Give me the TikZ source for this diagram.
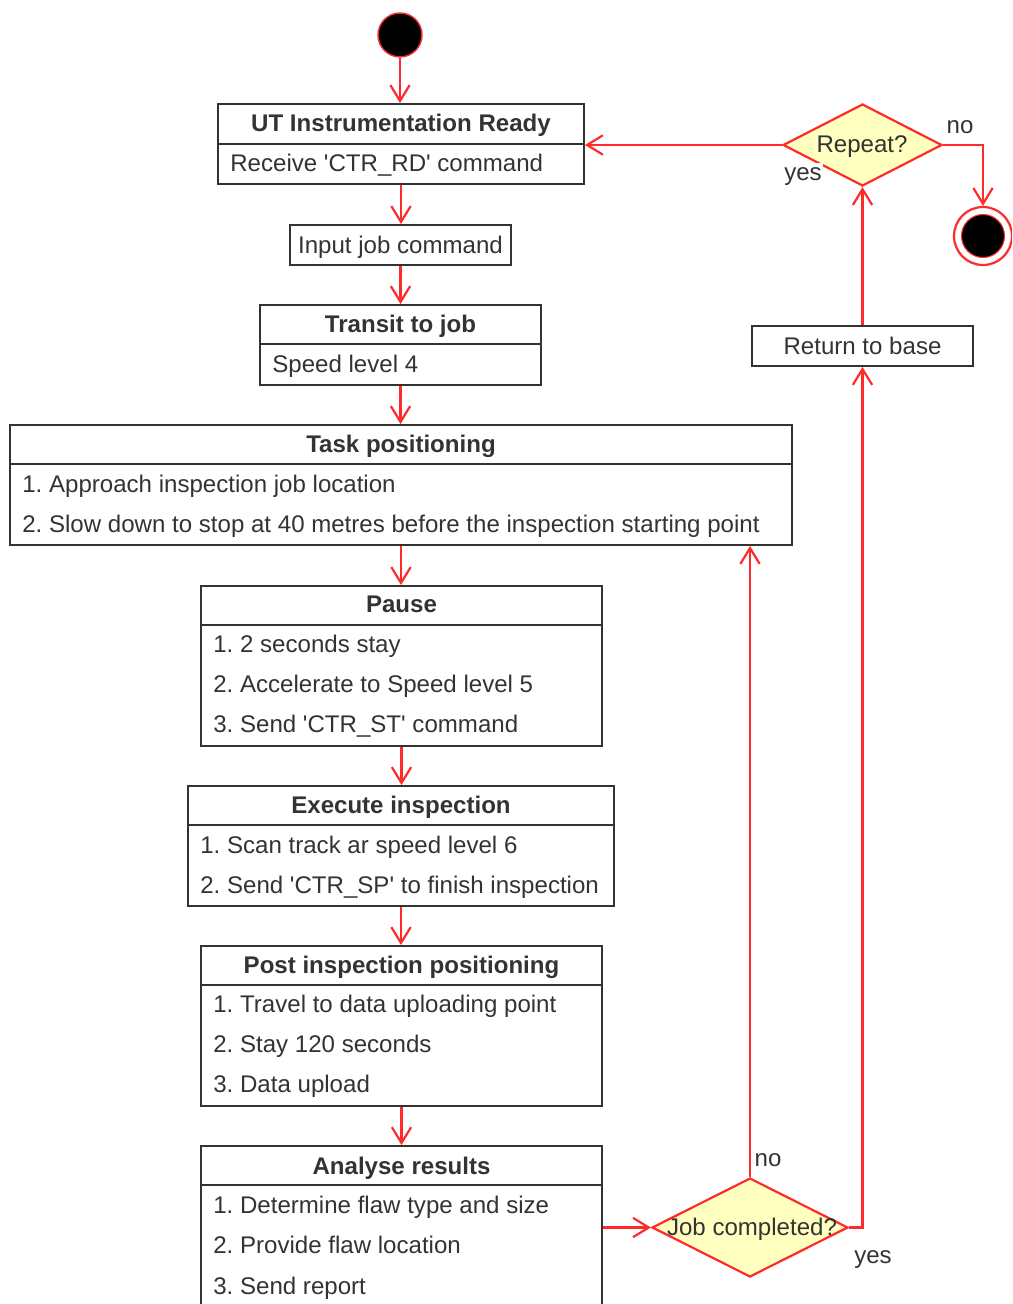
\documentclass[tikz,border=0pt]{standalone}
\usepackage{fontspec}
\setmainfont{Liberation Sans}
\usetikzlibrary{arrows.meta,shapes.geometric,calc}
\definecolor{lred}{HTML}{FF2A2A}
\definecolor{tgray}{HTML}{333333}
\definecolor{dfill}{HTML}{FFFFC0}
\newcommand{\sq}{\textquotesingle}
\begin{document}
\frenchspacing
\begin{tikzpicture}[x=0.02cm,y=-0.02cm,
  font=\fontsize{13.7}{16}\selectfont,
  box/.style={draw=tgray, line width=1.1pt, rectangle, inner sep=0pt, fill=white},
  ttl/.style={font=\fontsize{13.7}{16}\selectfont\bfseries, text=tgray, inner sep=0pt, text height=9.7pt, text depth=2.6pt, yshift=-1.1pt},
  txt/.style={text=tgray, inner sep=0pt, anchor=west, text height=9.7pt, text depth=2.6pt, yshift=-1.1pt},
  ctr/.style={text=tgray, inner sep=0pt, text height=9.7pt, text depth=2.6pt, yshift=-1.1pt},
  arr/.style={draw=lred, line width=1.25pt, -{Straight Barb[length=9pt,width=11pt]}},
  dia/.style={diamond, draw=lred, line width=1.25pt, fill=dfill, inner sep=0pt},
  divl/.style={draw=tgray, line width=1.1pt}]
\useasboundingbox (0,0) rectangle (1012,1304);
\clip (0,0) rectangle (1012,1304);

% start / end
\node[circle, fill=black, draw=lred, line width=0.8pt, minimum size=0.88cm, inner sep=0pt] (st) at (400,35) {};
\node[circle, draw=lred, line width=1.25pt, fill=white, minimum size=1.16cm, inner sep=0pt] (en) at (983,236) {};
\node[circle, fill=black, draw=lred, line width=0.6pt, minimum size=0.86cm, inner sep=0pt] (enin) at (983,236) {};

% UT Instrumentation Ready
\node[box, minimum width=7.32cm, minimum height=1.6cm] (b1) at (401,144) {};
\draw[divl] ($(b1.north west)+(0,41)$) -- ($(b1.north east)+(0,41)$);
\node[ttl] (b1t) at (401,123) {UT Instrumentation Ready};
\node[txt] (b1a) at (230,163) {Receive \sq CTR\_RD\sq{} command};

% Input job command
\node[box, minimum width=4.42cm, minimum height=0.8cm] (inp) at (400.5,245) {};
\node[ctr] (inpt) at (400.5,245) {Input job command};

% Transit to job
\node[box, minimum width=5.62cm, minimum height=1.6cm] (tr) at (400.5,345) {};
\draw[divl] ($(tr.north west)+(0,40)$) -- ($(tr.north east)+(0,40)$);
\node[ttl] (trt) at (400.5,324) {Transit to job};
\node[txt] (tra) at (272,364) {Speed level 4};

% Task positioning
\node[box, minimum width=15.64cm, minimum height=2.4cm] (task) at (401,485) {};
\draw[divl] ($(task.north west)+(0,40)$) -- ($(task.north east)+(0,40)$);
\node[ttl] (taskt) at (401,444) {Task positioning};
\node[txt] (taska) at (22,484) {1. Approach inspection job location};
\node[txt] (taskb) at (22,524) {2. Slow down to stop at 40 metres before the inspection starting point};

% Pause
\node[box, minimum width=8.02cm, minimum height=3.2cm] (pa) at (401.5,666) {};
\draw[divl] ($(pa.north west)+(0,40)$) -- ($(pa.north east)+(0,40)$);
\node[ttl] (pat) at (401.5,604) {Pause};
\node[txt] (paa) at (213,644) {1. 2 seconds stay};
\node[txt] (pab) at (213,684) {2. Accelerate to Speed level 5};
\node[txt] (pac) at (213,724) {3. Send \sq CTR\_ST\sq{} command};

% Execute inspection
\node[box, minimum width=8.52cm, minimum height=2.4cm] (ex) at (401,846) {};
\draw[divl] ($(ex.north west)+(0,40)$) -- ($(ex.north east)+(0,40)$);
\node[ttl] (ext) at (401,805) {Execute inspection};
\node[txt] (exa) at (200,845) {1. Scan track ar speed level 6};
\node[txt] (exb) at (200,885) {2. Send \sq CTR\_SP\sq{} to finish inspection};

% Post inspection positioning
\node[box, minimum width=8.02cm, minimum height=3.2cm] (po) at (401.5,1026) {};
\draw[divl] ($(po.north west)+(0,40)$) -- ($(po.north east)+(0,40)$);
\node[ttl] (pot) at (401.5,965) {Post inspection positioning};
\node[txt] (poa) at (213,1004) {1. Travel to data uploading point};
\node[txt] (pob) at (213,1044) {2. Stay 120 seconds};
\node[txt] (poc) at (213,1084) {3. Data upload};

% Analyse results
\node[box, minimum width=8.02cm, minimum height=3.2cm] (an) at (401.5,1226) {};
\draw[divl] ($(an.north west)+(0,40)$) -- ($(an.north east)+(0,40)$);
\node[ttl] (ant) at (401.5,1166) {Analyse results};
\node[txt] (ana) at (213,1205) {1. Determine flaw type and size};
\node[txt] (anb) at (213,1245) {2. Provide flaw location};
\node[txt] (anc) at (213,1286) {3. Send report};

% Return to base
\node[box, minimum width=4.42cm, minimum height=0.8cm] (ret) at (862.5,346) {};
\node[ctr] (rett) at (862.5,346) {Return to base};

% decisions
\node[dia, minimum width=3.92cm, minimum height=1.98cm] (jc) at (750,1227.5) {};
\node[ctr] (jct) at (752,1227) {Job completed?};
\node[dia, minimum width=3.18cm, minimum height=1.64cm] (rep) at (862.5,145) {};
\node[ctr] (rept) at (862,144) {Repeat?};

% connectors
\draw[arr] (st.south) -- (st.south |- b1.north);
\draw[arr] (b1.south) -- (b1.south |- inp.north);
\draw[arr] (inp.south) -- (inp.south |- tr.north);
\draw[arr] (tr.south) -- (tr.south |- task.north);
\draw[arr] (task.south) -- (task.south |- pa.north);
\draw[arr] (pa.south) -- (pa.south |- ex.north);
\draw[arr] (ex.south) -- (ex.south |- po.north);
\draw[arr] (po.south) -- (po.south |- an.north);
\draw[arr] (jc.west -| an.east) -- (jc.west);
\draw[arr] (jc.north) -- (jc.north |- task.south);
\draw[arr] (jc.east) -| (ret.south);
\draw[arr] (ret.north) -- (ret.north |- rep.south);
\draw[arr] (rep.west) -- (rep.west -| b1.east);
\draw[arr] (rep.east) -| (en.north);

% labels
\node[ctr] (lno1) at (960,125) {no};
\node[ctr, fill=white, inner xsep=1pt] (lyes1) at (803,172) {yes};
\node[ctr] (lno2) at (768,1158) {no};
\node[ctr] (lyes2) at (873,1255) {yes};
\end{tikzpicture}
\end{document}
